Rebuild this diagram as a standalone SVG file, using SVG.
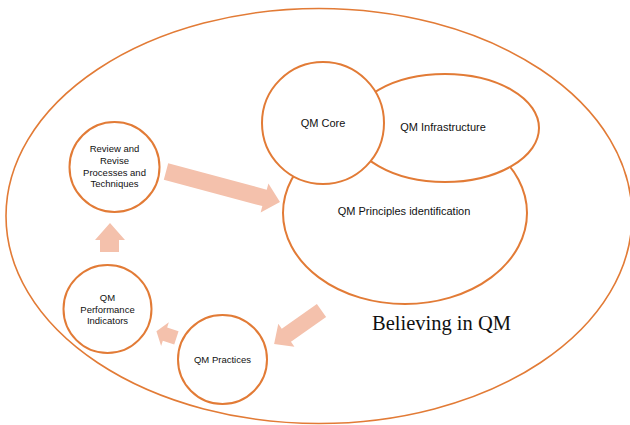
<svg xmlns="http://www.w3.org/2000/svg" width="630" height="425" viewBox="0 0 630 425">
<style>
.sh{fill:#fff;stroke:#E27B36;stroke-width:2}
.outer{fill:#fff;stroke:#E27B36;stroke-width:1.6}
.t{font-family:"Liberation Sans",Arial,sans-serif;font-size:11px;fill:#111;text-anchor:middle}
.s{font-size:9.5px}
.big{font-family:"Liberation Serif","Times New Roman",serif;font-size:20.5px;fill:#111}
.ar{fill:#F4C1AC}
</style>
<rect width="630" height="425" fill="#fff"/>
<g id="believing">
<ellipse class="outer" cx="319" cy="216" rx="313" ry="207.5"/>
<text class="big" x="372" y="330">Believing in QM</text>
</g>
<g id="principles">
<ellipse class="sh" cx="405" cy="213" rx="122" ry="91"/>
<text class="t" x="404" y="215">QM Principles identification</text>
</g>
<g id="infrastructure">
<ellipse class="sh" cx="445" cy="128" rx="94" ry="54"/>
<text class="t" x="443" y="131">QM Infrastructure</text>
</g>
<g id="core">
<circle class="sh" cx="323" cy="123" r="61"/>
<text class="t" x="323" y="127">QM Core</text>
</g>
<g id="review">
<circle class="sh" cx="114.5" cy="167" r="45"/>
<text class="t s" x="114.5" y="152">Review and</text>
<text class="t s" x="114.5" y="164">Revise</text>
<text class="t s" x="114.5" y="175.5">Processes and</text>
<text class="t s" x="114.5" y="187">Techniques</text>
</g>
<g id="performance">
<circle class="sh" cx="107.5" cy="309" r="44"/>
<text class="t s" x="107.5" y="301">QM</text>
<text class="t s" x="107.5" y="312.5">Performance</text>
<text class="t s" x="107.5" y="324">Indicators</text>
</g>
<g id="practices">
<circle class="sh" cx="222.5" cy="359.5" r="44.5"/>
<text class="t s" x="222.5" y="363">QM Practices</text>
</g>
<g id="connectors">
<polygon class="ar" transform="translate(166,171.5) rotate(15)" points="0,-8.5 102,-8.5 102,-15 118,0 102,15 102,8.5 0,8.5"/>
<polygon class="ar" transform="translate(321.5,310.5) rotate(144.8)" points="0,-8 43,-8 43,-14 58,0 43,14 43,8 0,8"/>
<polygon class="ar" transform="translate(176.4,337.8) rotate(198)" points="0,-7 12,-7 12,-12.5 21,0 12,12.5 12,7 0,7"/>
<polygon class="ar" points="100,252 100,240 95,240 110,223 125,240 119,240 119,252"/>
</g>
</svg>
